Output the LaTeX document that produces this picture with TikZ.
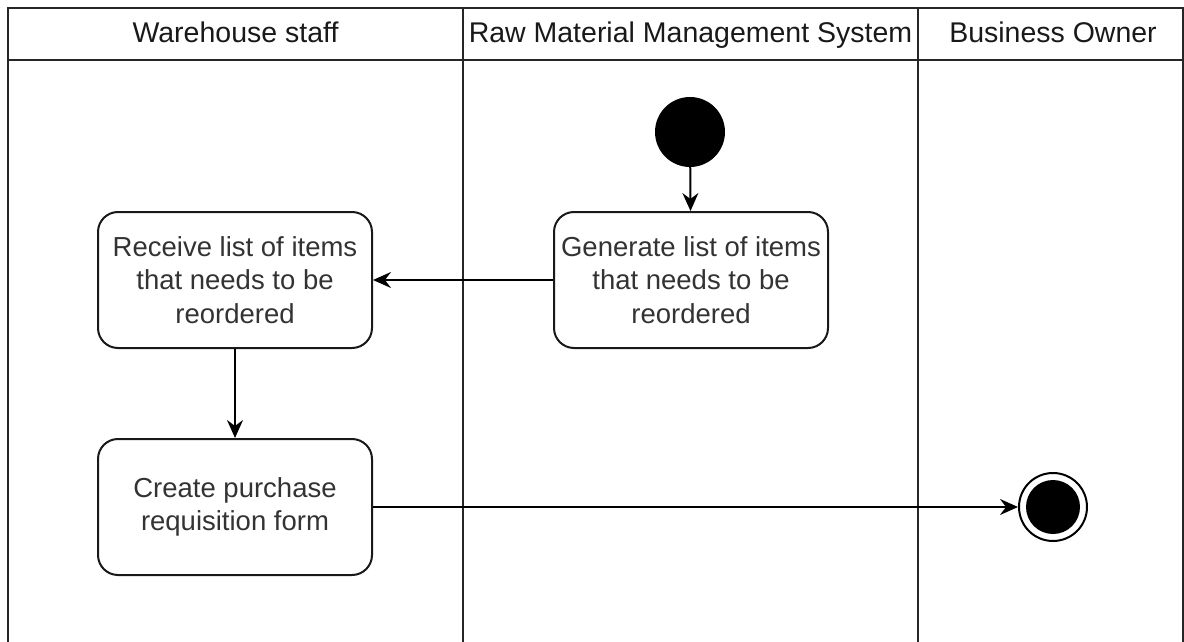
\documentclass[tikz,border=0pt]{standalone}
\usepackage{fontspec}
\setmainfont{Liberation Sans}
\usetikzlibrary{arrows.meta}
\begin{document}
\begin{tikzpicture}[x=1pt,y=-1pt,
  lane/.style={line width=2pt,draw=black!85},
  act/.style={draw=black!90,line width=2pt,rounded corners=20pt,minimum width=274pt,minimum height=136pt,align=center,text=black!80,font=\fontsize{27.5}{33.5}\selectfont,inner sep=0pt},
  hdr/.style={text=black!90,font=\fontsize{28.5}{30}\selectfont,inner sep=0pt,anchor=base},
  flow/.style={line width=2pt,draw=black,-{Stealth[length=18pt,width=16pt,inset=6pt]}}]
\useasboundingbox (0,0) rectangle (1184,642);
% swimlane frame
\draw[lane] (8,642) -- (8,8) -- (1183,8) -- (1183,642);
\draw[lane] (8,60) -- (1183,60);
\draw[lane] (463,8) -- (463,642);
\draw[lane] (918,8) -- (918,642);
\node[hdr] (h1) at (235.5,43) {Warehouse staff};
\node[hdr] (h2) at (690.5,43) {Raw Material Management System};
\node[hdr] (h3) at (1053,43) {Business Owner};
% nodes
\node[circle,fill=black,minimum size=70pt,inner sep=0pt] (start) at (690,132) {};
\node[act] (gen) at (691,280) {Generate list of items\\that needs to be\\reordered};
\node[act] (rec) at (235,280) {Receive list of items\\that needs to be\\reordered};
\node[act] (cre) at (235,507) {Create purchase\\requisition form};
\node[circle,draw=black,line width=2pt,minimum size=68pt,inner sep=0pt] (end) at (1053,507) {};
\node[circle,fill=black,minimum size=54pt,inner sep=0pt] (endin) at (1053,507) {};
% flows
\draw[flow] (start) -- (gen);
\draw[flow] (gen) -- (rec);
\draw[flow] (rec) -- (cre);
\draw[flow] (cre) -- (end);
\end{tikzpicture}
\end{document}
